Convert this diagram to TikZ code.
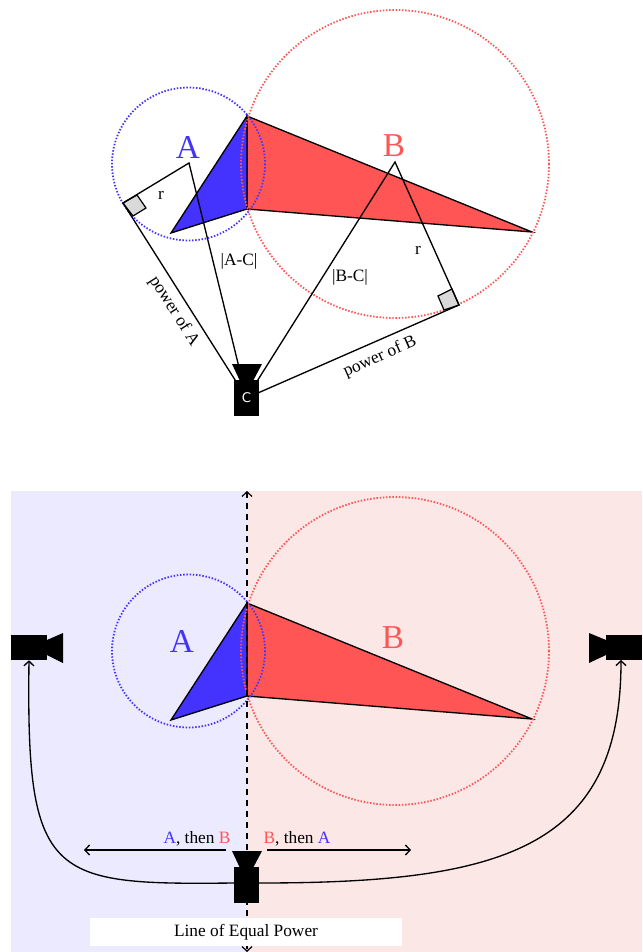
\documentclass[tikz,border=0pt]{standalone}
\usepackage{fontspec}
\setmainfont{Liberation Serif}
\setsansfont{DejaVu Sans}
\usetikzlibrary{arrows.meta,positioning}
\definecolor{colA}{HTML}{4433FF}
\definecolor{colB}{HTML}{FF5555}
\definecolor{bgA}{HTML}{ECEAFE}
\definecolor{bgB}{HTML}{FCE7E7}
\tikzset{
  edge/.style={line width=1pt},
  barb/.tip={Straight Barb[length=3.5pt,width=7.5pt]},
  arr/.style={edge, -barb},
  ring/.style={line width=1.35pt, dash pattern=on 1.1pt off 1.3pt},
  mark90/.style={draw, line width=0.9pt, fill=black!15},
  big/.style={font=\fontsize{25}{30}\selectfont, inner sep=0pt},
  lbl/.style={font=\fontsize{13}{15}\selectfont, inner sep=0pt},
  camup/.style={fill=black, inner sep=0pt, minimum width=18.75pt, minimum height=27pt, text=white, font=\sffamily\fontsize{10}{12}\selectfont},
  camside/.style={fill=black, inner sep=0pt, minimum width=27pt, minimum height=18.75pt},
  shapes2/.pic={
    \filldraw[edge, fill=colB] (247,116) -- (532,232) -- (247,209) -- cycle;
    \filldraw[edge, fill=colA] (247,116) -- (247,209) -- (171,233) -- cycle;
    \draw[ring, colA] (188.5,164) circle[radius=76.5];
    \draw[ring, colB] (395,164) circle[radius=154];
  }}
\begin{document}
\begin{tikzpicture}[x=0.75pt, y=-0.75pt]
  \useasboundingbox (0,0) rectangle (642,952);
  % top view
  \pic at (0,0) {shapes2};
  \coordinate (ctrA) at (189,163);
  \coordinate (ctrB) at (395,162);
  \coordinate (ctrC) at (246.5,398);
  \coordinate (tanA) at (123,203);
  \coordinate (tanB) at (459,305);
  \node[big, colA] (labA) at (188,147) {A};
  \node[big, colB] (labB) at (394,146) {B};
  \draw[mark90] (tanA) -- (137,195) -- (146,208) -- (133,216) -- cycle;
  \draw[mark90] (tanB) -- (452,289) -- (438,296) -- (444,310) -- cycle;
  \draw[edge] (ctrC) -- (tanA) -- (ctrA) -- cycle;
  \draw[edge] (ctrC) -- (ctrB) -- (tanB) -- cycle;
  \fill (232,364) -- (262,364) -- (253,381) -- (240,381) -- cycle;
  \node[camup] (camC) at (ctrC) {C};
  \node[lbl] (labr1) at (161,195) {r};
  \node[lbl] (labr2) at (418,250) {r};
  \node[lbl] (labAC) at (239,261) {|A-C|};
  \node[lbl] (labBC) at (350,277) {|B-C|};
  \node[lbl, rotate=-57.5] (labpA) at (174,311) {power of A};
  \node[lbl, rotate=24] (labpB) at (380,357) {power of B};
  % bottom view
  \fill[bgA] (11,491) rectangle (247,952);
  \fill[bgB] (247,491) rectangle (642,952);
  \pic at (0,487) {shapes2};
  \node[big, colA] (labA2) at (182,641) {A};
  \node[big, colB] (labB2) at (393,638) {B};
  \coordinate (lineTop) at (247,491);
  \coordinate (lineBot) at (247,952);
  \draw[line width=0.9pt, barb-barb, dash pattern=on 4.5pt off 3.75pt] (lineTop) -- (lineBot);
  \coordinate (startL) at (234,883);
  \coordinate (startR) at (259,883);
  \node[camup] (camM) at (246.5,885) {};
  \node[camside] (camL) at (29,647.5) {};
  \node[camside] (camR) at (623.5,647.5) {};
  \fill (232,851) -- (262,851) -- (253,868) -- (240,868) -- cycle;
  \fill (47,640) -- (63,633) -- (63,663) -- (47,655) -- cycle;
  \fill (606,640) -- (589,633) -- (589,663) -- (606,655) -- cycle;
  \coordinate (endR) at (621,660);
  \draw[arr] (startL) .. controls (50,885) and (26,880) .. (camL.south);
  \draw[arr] (startR) .. controls (500,883) and (621,850) .. (endR);
  \coordinate (leftA) at (226,850);
  \coordinate (leftB) at (84,850);
  \coordinate (rightA) at (267,850);
  \coordinate (rightB) at (411,850);
  \draw[arr] (leftA) -- (leftB);
  \draw[arr] (rightA) -- (rightB);
  \node[lbl] (labAB) at (197,839) {\textcolor{colA}{A}, then \textcolor{colB}{B}};
  \node[lbl] (labBA) at (297,839) {\textcolor{colB}{B}, then \textcolor{colA}{A}};
  \node[lbl, fill=white, minimum width=234pt, minimum height=21pt] (labLine) at (246,932) {\raisebox{-1pt}{Line of Equal Power}};
\end{tikzpicture}
\end{document}
